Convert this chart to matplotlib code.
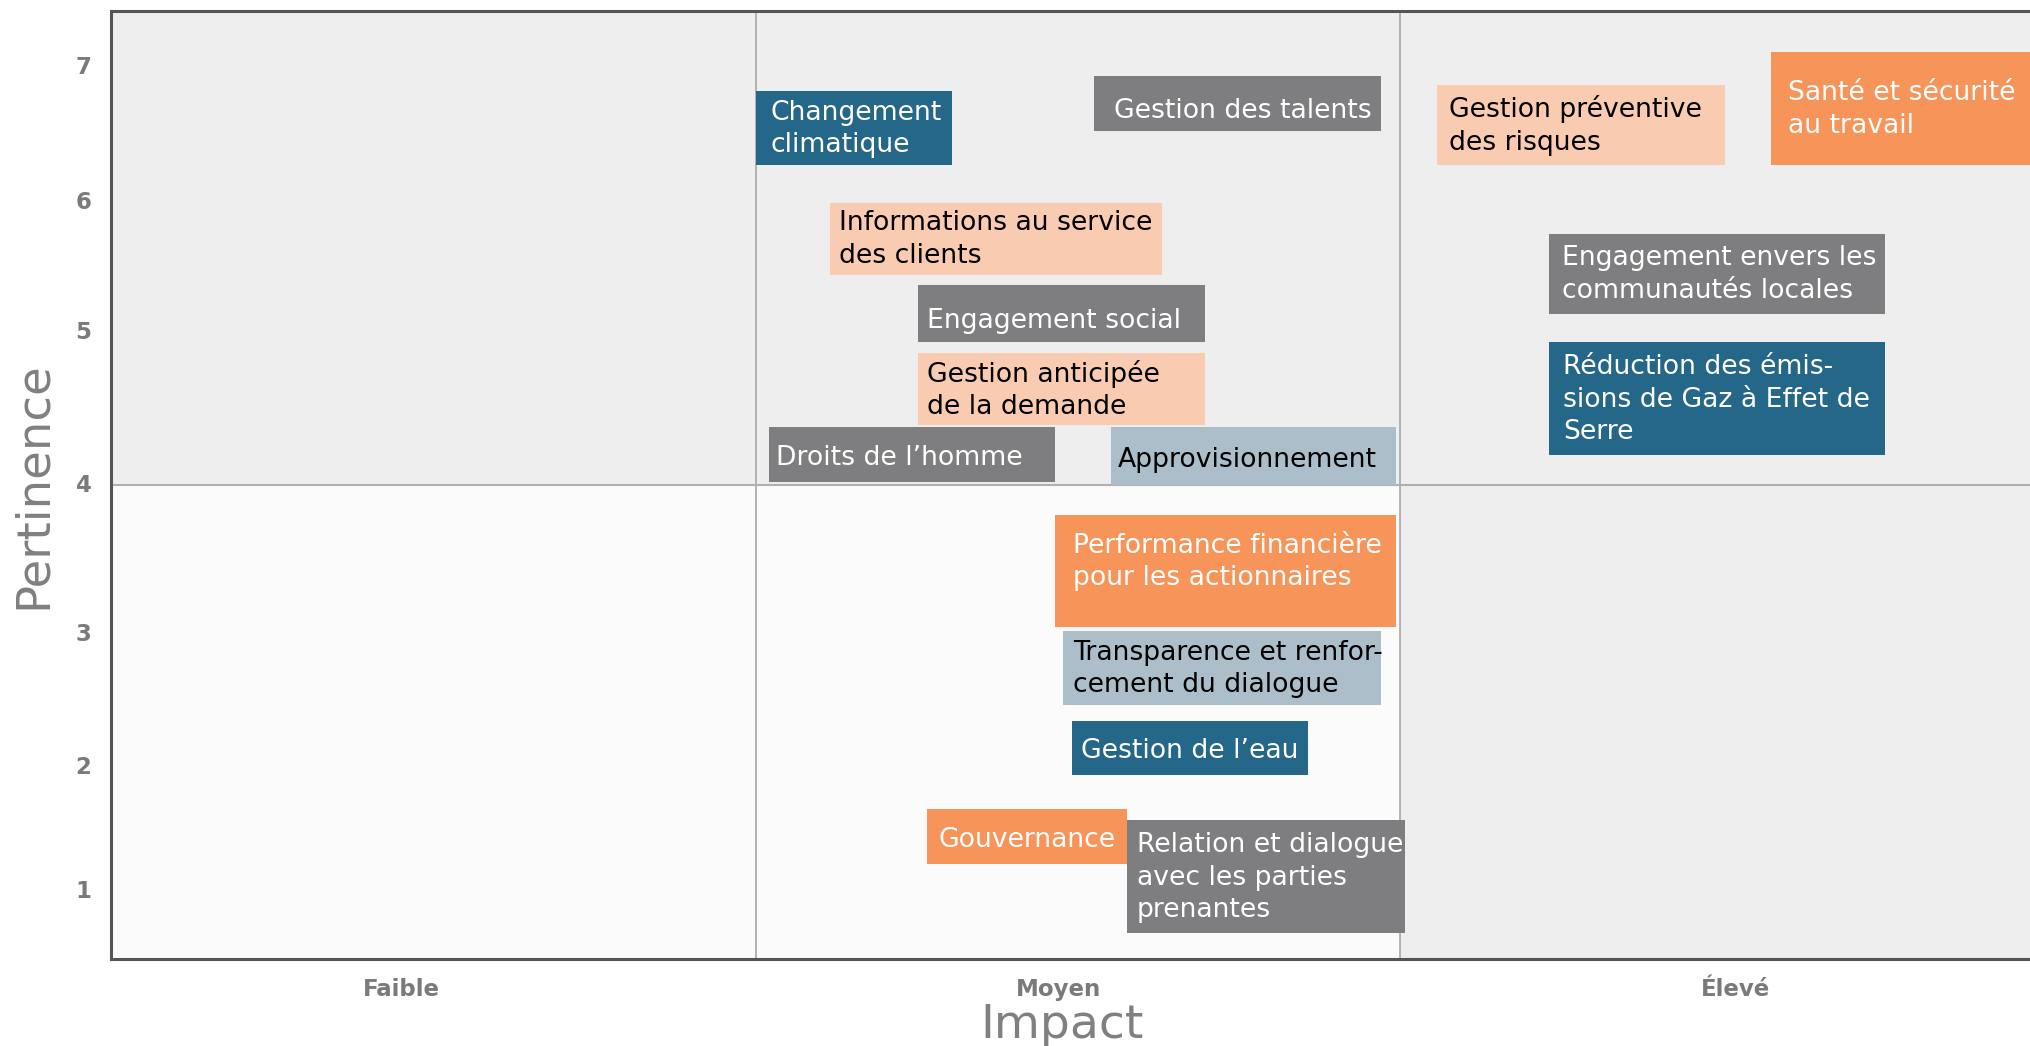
import matplotlib
matplotlib.use("Agg")
import matplotlib.pyplot as plt
from matplotlib.patches import Rectangle
from matplotlib import transforms

# enjeux de la matrice de matérialité
labels = [
    "Changement\nclimatique",
    "Gestion des talents",
    "Gestion préventive\ndes risques",
    "Santé et sécurité\nau travail",
    "Informations au service\ndes clients",
    "Engagement social",
    "Gestion anticipée\nde la demande",
    "Droits de l\u2019homme",
    "Approvisionnement",
    "Engagement envers les\ncommunautés locales",
    "Réduction des émis-\nsions de Gaz à Effet de\nSerre",
    "Performance financière\npour les actionnaires",
    "Transparence et renfor-\ncement du dialogue",
    "Gestion de l\u2019eau",
    "Gouvernance",
    "Relation et dialogue\navec les parties\nprenantes",
]
# position (coin haut-gauche de l'étiquette) : impact en x, pertinence en y
impact = [1.00, 1.525, 2.058, 2.576, 1.115, 1.252, 1.252, 1.021,
          1.551, 2.231, 2.231, 1.465, 1.477, 1.491, 1.266, 1.576]
pertinence = [6.905, 7.02, 6.953, 7.192, 6.083, 5.471, 4.974, 4.429,
              4.429, 5.854, 5.051, 3.779, 2.919, 2.259, 1.609, 1.523]
categorie = ["env", "soc", "eco2", "eco", "eco2", "soc", "eco2", "soc",
             "gouv", "soc", "env", "eco", "gouv", "env", "eco", "soc"]

x_ticklabels = ["Faible", "Moyen", "Élevé"]
y_ticklabels = ["1", "2", "3", "4", "5", "6", "7"]

# mise en page des étiquettes
box_w = [0.305, 0.446, 0.446, 0.50, 0.515, 0.446, 0.446, 0.444,
         0.443, 0.522, 0.522, 0.529, 0.494, 0.366, 0.31, 0.432]
box_h = [0.545, 0.411, 0.593, 0.832, 0.535, 0.42, 0.535, 0.411,
         0.429, 0.593, 0.832, 0.832, 0.545, 0.401, 0.411, 0.832]
text_pad = [15, 20, 12, 17, 9, 9, 9, 7, 7, 13, 14, 18, 10, 9, 12, 10]
text_dy = [-1, -8, -1, -1, -1, -7, -1, -4, -4, -1, -1, 9, -1, -3, -3, -1]

colors = {"env": "#256789", "soc": "#7e7e80", "eco": "#f79459",
          "eco2": "#f9cbb0", "gouv": "#adbecb"}
text_colors = {"env": "white", "soc": "white", "eco": "white",
               "eco2": "black", "gouv": "black"}

W, H = 2031, 1046
fig = plt.figure(figsize=(W / 100, H / 100), dpi=100)
fig.patch.set_facecolor("white")

left, right, bottom, top = 111, 2031, 959, 10.5
ax = fig.add_axes([left / W, (H - bottom) / H, (right - left) / W, (bottom - top) / H])
xmax = (right - left) / 644.5
ax.set_xlim(0, xmax)
ax.set_ylim(0.5, 7.5)

# fonds des quadrants
ax.add_patch(Rectangle((0, 4), 3.2, 3.5, facecolor="#edeeed", edgecolor="none", zorder=0))
ax.add_patch(Rectangle((0, 0.5), 2, 3.5, facecolor="#fbfbfb", edgecolor="none", zorder=0))
ax.add_patch(Rectangle((2, 0.5), 1.2, 3.5, facecolor="#edeeed", edgecolor="none", zorder=0))
ax.axvline(1, color="#a8a8a8", lw=1.2, zorder=1)
ax.axvline(2, color="#a8a8a8", lw=1.2, zorder=1)
ax.axhline(4, color="#b0b0b0", lw=1.5, zorder=1)

font = "DejaVu Sans"
for i, lab in enumerate(labels):
    c = categorie[i]
    x0 = impact[i]
    y0 = pertinence[i] - box_h[i]
    ax.add_patch(Rectangle((x0, y0), box_w[i], box_h[i], facecolor=colors[c],
                           edgecolor="none", zorder=3))
    tr = transforms.offset_copy(ax.transData, fig=fig, x=text_pad[i], y=text_dy[i], units="dots")
    ax.text(x0, y0 + box_h[i] / 2, lab, transform=tr, ha="left", va="center",
            color=text_colors[c], fontsize=19.2, family=font, linespacing=1.33,
            zorder=4, clip_on=False)

ax.set_xticks([0.45, 1.47, 2.52])
ax.set_xticklabels(x_ticklabels)
ax.set_yticks([1.02, 1.93, 2.91, 4.01, 5.14, 6.10, 7.10])
ax.set_yticklabels(y_ticklabels)
ax.tick_params(length=0, labelsize=16.5, labelcolor="#7a7a7a", pad=14)
ax.tick_params(axis="x", pad=14)
for t in ax.get_xticklabels() + ax.get_yticklabels():
    t.set_fontweight("semibold")

for s in ["left", "bottom", "top"]:
    ax.spines[s].set_color("#555555")
    ax.spines[s].set_linewidth(2.2)
ax.spines["right"].set_visible(False)

ax.set_xlabel("Impact", fontsize=34, color="#808080", labelpad=1, x=(1062 - left) / (right - left))
ax.set_ylabel("Pertinence", fontsize=33.5, color="#808080", labelpad=14)

fig.savefig("out.png", dpi=100)
